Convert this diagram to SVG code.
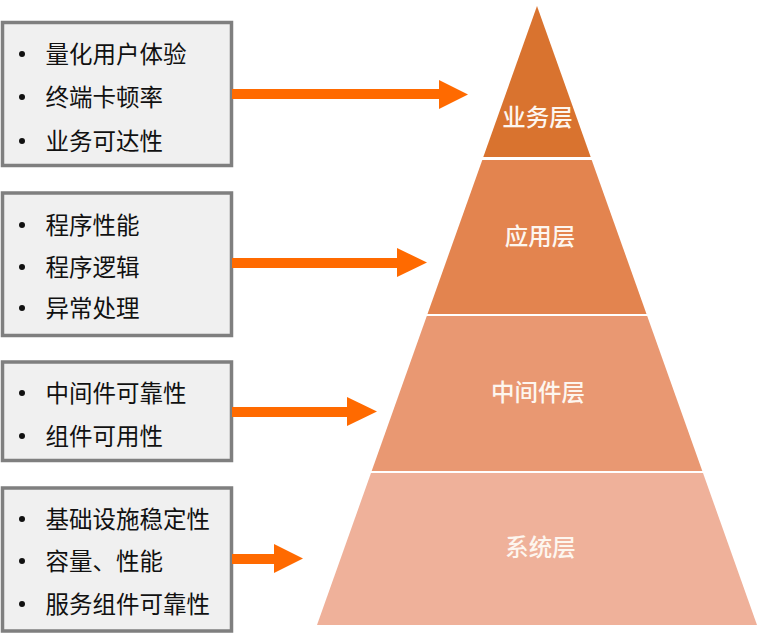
<svg xmlns="http://www.w3.org/2000/svg" width="762" height="634" viewBox="0 0 762 634">
<style>
.box{fill:#f0f0f0;stroke:#7f7f7f;stroke-width:3.5}
.t{font-family:"Noto Sans CJK SC","Noto Sans",sans-serif;font-size:23.5px;fill:#111}
.dot{fill:#111}
.lbl{font-family:"Noto Sans CJK SC","Noto Sans",sans-serif;font-size:23.5px;fill:#fdf6ef;text-anchor:middle;font-weight:500}
.ln{stroke:#ff6a00;stroke-width:10;fill:none}
.hd{fill:#ff6a00}
</style>
<rect width="762" height="634" fill="#ffffff"/>
<g id="box1">
<rect class="box" x="2.5" y="22.5" width="229" height="143"/>
<circle class="dot" cx="22" cy="54" r="3"/><text class="t" x="45.5" y="62.5">量化用户体验</text>
<circle class="dot" cx="22" cy="97" r="3"/><text class="t" x="45.5" y="105.5">终端卡顿率</text>
<circle class="dot" cx="22" cy="141" r="3"/><text class="t" x="45.5" y="149.5">业务可达性</text>
</g>
<g id="box2">
<rect class="box" x="2.5" y="193" width="229" height="142.5"/>
<circle class="dot" cx="22" cy="225" r="3"/><text class="t" x="45.5" y="233.5">程序性能</text>
<circle class="dot" cx="22" cy="267" r="3"/><text class="t" x="45.5" y="275.5">程序逻辑</text>
<circle class="dot" cx="22" cy="308" r="3"/><text class="t" x="45.5" y="316.5">异常处理</text>
</g>
<g id="box3">
<rect class="box" x="2.5" y="362" width="229" height="98.5"/>
<circle class="dot" cx="22" cy="393" r="3"/><text class="t" x="45.5" y="401.5">中间件可靠性</text>
<circle class="dot" cx="22" cy="436" r="3"/><text class="t" x="45.5" y="444.5">组件可用性</text>
</g>
<g id="box4">
<rect class="box" x="2.5" y="488" width="229" height="143"/>
<circle class="dot" cx="22" cy="519" r="3"/><text class="t" x="45.5" y="527.5">基础设施稳定性</text>
<circle class="dot" cx="22" cy="561" r="3"/><text class="t" x="45.5" y="569.5">容量、性能</text>
<circle class="dot" cx="22" cy="604" r="3"/><text class="t" x="45.5" y="612.5">服务组件可靠性</text>
</g>
<g id="layer1">
<polygon points="537,6 590.7,157 483.3,157" fill="#d9732f"/>
<text class="lbl" x="537.5" y="126">业务层</text>
</g>
<g id="layer2">
<polygon points="482.3,160 591.7,160 646.5,314 427.5,314" fill="#e3844f"/>
<text class="lbl" x="540" y="245">应用层</text>
</g>
<g id="layer3">
<polygon points="426.8,316 647.2,316 702.3,471 371.7,471" fill="#e99872"/>
<text class="lbl" x="538" y="401">中间件层</text>
</g>
<g id="layer4">
<polygon points="371,473 703,473 757,625 317,625" fill="#efb19a"/>
<text class="lbl" x="540.5" y="556">系统层</text>
</g>
<g id="connectors">
<line class="ln" x1="232" y1="94" x2="441" y2="94"/>
<polygon class="hd" points="439,80 468,94.5 439,109"/>
<line class="ln" x1="232" y1="263" x2="399" y2="263"/>
<polygon class="hd" points="397,248 427,262.5 397,277"/>
<line class="ln" x1="232" y1="412" x2="349" y2="412"/>
<polygon class="hd" points="347,397 377,411.5 347,426"/>
<line class="ln" x1="232" y1="559" x2="276" y2="559"/>
<polygon class="hd" points="274,544 303,558.5 274,573"/>
</g>
</svg>
